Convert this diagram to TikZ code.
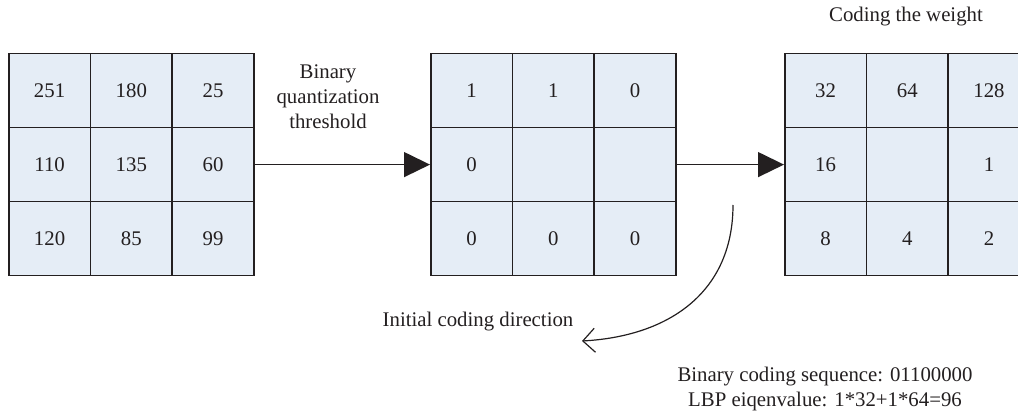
\documentclass[tikz,border=0pt]{standalone}
\usepackage{fontspec}
\setmainfont{Liberation Serif}
\usetikzlibrary{arrows.meta}
\definecolor{ink}{HTML}{231F20}
\definecolor{cellfill}{HTML}{E5EDF6}
\tikzset{
  cell/.style={draw=ink, fill=cellfill, line width=1.5pt, minimum width=81.7pt,
    minimum height=74.1pt, inner sep=0pt, anchor=north west, font=\fontsize{20.8}{25}\selectfont, text=ink},
  label/.style={font=\fontsize{20.8}{25}\selectfont, text=ink, inner sep=0pt, align=center},
  bigarrow/.style={draw=ink, line width=1.4pt, -{Triangle[length=26pt,width=25pt]}},
  curvearrow/.style={draw=ink, line width=1.2pt, -{Straight Barb[length=12pt,width=24pt,line width=1.2pt]}}
}
\begin{document}
\begin{tikzpicture}[x=1pt,y=-1pt]
\useasboundingbox (0,0) rectangle (1018,414);
% three 3x3 grids: g1 = pixel values, g2 = thresholded bits, g3 = weights
\foreach \g/\x/\vals in {
  1/8/{251,180,25,110,135,60,120,85,99},
  2/430/{1,1,0,0,{},{},0,0,0},
  3/784/{32,64,128,16,{},1,8,4,2}}{
  \foreach \v [count=\i from 0] in \vals {
    \pgfmathtruncatemacro{\r}{int(\i/3)+1}
    \pgfmathtruncatemacro{\c}{mod(\i,3)+1}
    \node[cell] (g\g-\r-\c) at ({\x+(\c-1)*81.7},{52.7+(\r-1)*74.1}) {\v};
  }
}
% processing steps
\draw[bigarrow] (g1-2-3.east) -- (g2-2-1.west);
\draw[bigarrow] (g2-2-3.east) -- (g3-2-1.west);
\node[label] (thr) at (328,97) {Binary\\quantization\\threshold};
\node[label] (wt) at (906,17) {Coding the weight};
% coding direction
\coordinate (cs) at (733,205);
\coordinate (ce) at (582,341);
\draw[curvearrow] (cs) .. controls (733,290) and (672,336) .. (ce);
\node[label] (dir) at (478,322) {Initial coding direction};
\node[label, text depth=0pt] (res) at (825,387) {\fontsize{20.8}{27}\selectfont Binary coding sequence: 01100000\\LBP eiqenvalue: 1*32+1*64=96};
\end{tikzpicture}
\end{document}
